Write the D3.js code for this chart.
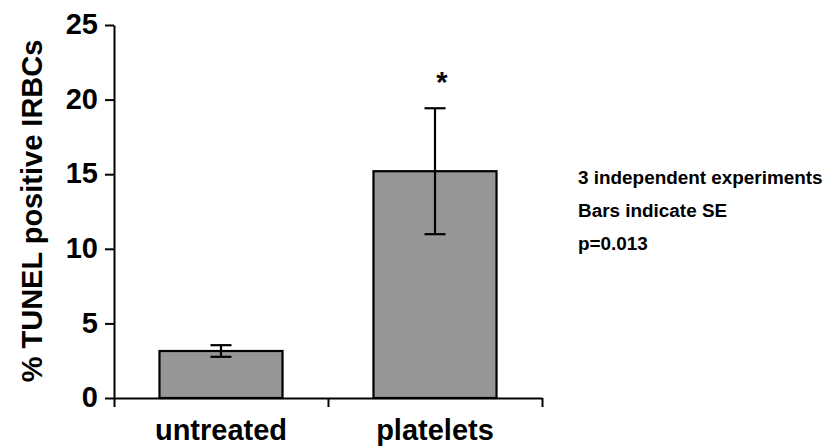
<!DOCTYPE html>
<html>
<head>
<meta charset="utf-8">
<script src="https://cdn.jsdelivr.net/npm/d3@7"></script>
<style>
  body { margin: 0; background: #fff; }
  text { font-family: "Liberation Sans", Arial, sans-serif; font-weight: bold; }
</style>
</head>
<body>
<main></main>
<script>
// data
const categories = ["untreated", "platelets"];
const means = [3.15, 15.2];
const errors = [0.39, 4.22];
const yTicks = [0, 5, 10, 15, 20, 25];
const notes = ["3 independent experiments", "Bars indicate SE", "p=0.013"];
const marks = ["", "*"];

const width = 826;
const height = 448;

const svg = d3.select("main")
  .append("svg")
  .attr("width", width)
  .attr("height", height);

const yScale = d3.scaleLinear()
  .domain([0, 25])
  .range([398, 25]);

const xScale = d3.scaleBand()
  .domain(categories)
  .range([114, 542])
  .paddingInner(0.425)
  .paddingOuter(0.2125);

// category boundaries for the x ticks
const xEdge = d3.scaleLinear()
  .domain([0, categories.length])
  .range([114, 542]);

// bars
svg.selectAll("rect.bar")
  .data(means)
  .enter()
  .append("rect")
  .attr("class", "bar")
  .attr("x", (d, i) => xScale(categories[i]))
  .attr("y", d => yScale(d))
  .attr("width", xScale.bandwidth())
  .attr("height", d => yScale(0) - yScale(d))
  .style("fill", "#969696")
  .style("stroke", "#000")
  .style("stroke-width", 2.2);

// error bars
const err = svg.append("g").attr("id", "errors");
means.forEach((m, i) => {
  const cx = xScale(categories[i]) + xScale.bandwidth() / 2;
  const g = err.append("g").style("stroke", "#000").style("stroke-width", 2.2);
  g.append("line")
    .attr("x1", cx).attr("x2", cx)
    .attr("y1", yScale(m + errors[i])).attr("y2", yScale(m - errors[i]));
  [m + errors[i], m - errors[i]].forEach(v => {
    g.append("line")
      .attr("x1", cx - 10.5).attr("x2", cx + 10.5)
      .attr("y1", yScale(v)).attr("y2", yScale(v));
  });
  if (marks[i]) {
    svg.append("text")
      .attr("x", cx + 7)
      .attr("y", 92)
      .attr("text-anchor", "middle")
      .style("font-size", "29px")
      .text(marks[i]);
  }
});

// y axis
const y_axis = d3.axisLeft(yScale)
  .tickValues(yTicks)
  .tickSize(9)
  .tickSizeOuter(0)
  .tickPadding(7);

const yG = svg.append("g")
  .attr("id", "y-axis")
  .attr("transform", "translate(114,0)")
  .call(y_axis);
yG.selectAll("path, line").style("stroke", "#000").style("stroke-width", 2);
yG.selectAll("text")
  .style("font-size", "29px")
  .style("font-family", "'Liberation Sans', Arial, sans-serif")
  .style("font-weight", "bold")
  .attr("dy", "0.3em")
  .style("fill", "#000");

// x axis, ticks at the category edges
const x_axis = d3.axisBottom(xEdge)
  .tickValues(d3.range(categories.length + 1))
  .tickSize(9)
  .tickSizeOuter(0)
  .tickFormat("");

const xG = svg.append("g")
  .attr("id", "x-axis")
  .attr("transform", "translate(0," + yScale(0) + ")")
  .call(x_axis);
xG.selectAll("path, line").style("stroke", "#000").style("stroke-width", 2);

// category labels
svg.selectAll("text.cat")
  .data(categories)
  .enter()
  .append("text")
  .attr("class", "cat")
  .attr("x", d => xScale(d) + xScale.bandwidth() / 2)
  .attr("y", 440)
  .attr("text-anchor", "middle")
  .style("font-size", "29px")
  .text(d => d);

// y title
svg.append("text")
  .attr("transform", "translate(42," + 211 + ") rotate(-90)")
  .attr("text-anchor", "middle")
  .style("font-size", "29px")
  .text("% TUNEL positive IRBCs");

// notes on the right
svg.selectAll("text.note")
  .data(notes)
  .enter()
  .append("text")
  .attr("class", "note")
  .attr("x", 578)
  .attr("y", (d, i) => 184 + i * 33)
  .style("font-size", "18.9px")
  .text(d => d);
</script>
</body>
</html>
